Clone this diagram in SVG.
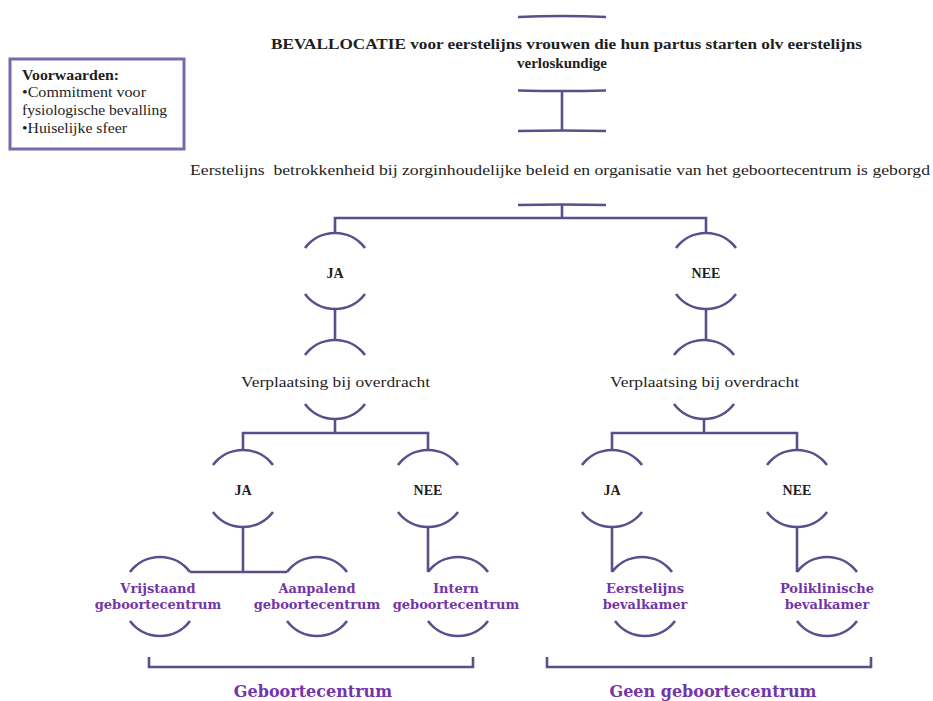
<svg xmlns="http://www.w3.org/2000/svg" width="933" height="701" viewBox="0 0 933 701">
<style>
  .ln{fill:none;stroke:#5b4e8c;stroke-width:2.6;stroke-linecap:butt}
  .box{fill:#fff;stroke:#7a68ad;stroke-width:3}
  .t{font-family:"Liberation Serif","DejaVu Serif",serif;fill:#1e1e1e}
  .b{font-weight:bold}
  .c{text-anchor:middle}
  .leaf{font-family:"DejaVu Serif","Liberation Serif",serif;font-weight:bold;fill:#7435a8;font-size:13px;text-anchor:middle}
  .grp{font-family:"DejaVu Serif","Liberation Serif",serif;font-weight:bold;fill:#7435a8;font-size:16px;text-anchor:middle}
</style>
<rect width="933" height="701" fill="#ffffff"/>

<g id="voorwaarden">
  <rect class="box" x="10" y="59" width="174" height="90"/>
  <text class="t b" x="22" y="80" font-size="14" textLength="97" lengthAdjust="spacingAndGlyphs">Voorwaarden:</text>
  <text class="t" x="22" y="97" font-size="14" textLength="124" lengthAdjust="spacingAndGlyphs">•Commitment voor</text>
  <text class="t" x="22" y="115" font-size="14" textLength="145" lengthAdjust="spacingAndGlyphs">fysiologische bevalling</text>
  <text class="t" x="22" y="133" font-size="14" textLength="105" lengthAdjust="spacingAndGlyphs">•Huiselijke sfeer</text>
</g>

<g id="node-title">
  <path class="ln" d="M518,17 Q562,15 606,17"/>
  <text class="t b" x="271" y="49" font-size="15" textLength="591" lengthAdjust="spacingAndGlyphs">BEVALLOCATIE voor eerstelijns vrouwen die hun partus starten olv eerstelijns</text>
  <text class="t b c" x="562" y="68" font-size="15">verloskundige</text>
  <path class="ln" d="M518,90.5 Q562,91.5 606,90.5"/>
</g>

<g id="node-betrokkenheid">
  <path class="ln" d="M518,131 Q562,130 606,131"/>
  <text class="t" x="190" y="175" font-size="15" xml:space="preserve" textLength="740" lengthAdjust="spacingAndGlyphs">Eerstelijns  betrokkenheid bij zorginhoudelijke beleid en organisatie van het geboortecentrum is geborgd</text>
  <path class="ln" d="M518,205 Q562,204 606,205"/>
</g>

<g id="node-ja1">
  <path class="ln" d="M305,248 A37.5,37.5 0 0 1 365,248"/>
  <text class="t b c" x="335" y="278" font-size="14">JA</text>
  <path class="ln" d="M305,294 A37.5,37.5 0 0 0 365,294"/>
</g>
<g id="node-nee1">
  <path class="ln" d="M676,248 A37.5,37.5 0 0 1 736,248"/>
  <text class="t b c" x="706" y="278" font-size="14">NEE</text>
  <path class="ln" d="M676,294 A37.5,37.5 0 0 0 736,294"/>
</g>

<g id="node-verplaatsing1">
  <path class="ln" d="M305,355 A37.5,37.5 0 0 1 365,355"/>
  <text class="t" x="241" y="387" font-size="15" textLength="189" lengthAdjust="spacingAndGlyphs">Verplaatsing bij overdracht</text>
  <path class="ln" d="M305,404 A37.5,37.5 0 0 0 365,404"/>
</g>
<g id="node-verplaatsing2">
  <path class="ln" d="M674,355 A37.5,37.5 0 0 1 734,355"/>
  <text class="t" x="610" y="387" font-size="15" textLength="189" lengthAdjust="spacingAndGlyphs">Verplaatsing bij overdracht</text>
  <path class="ln" d="M674,404 A37.5,37.5 0 0 0 734,404"/>
</g>

<g id="node-ja2a">
  <path class="ln" d="M213,465 A37.5,37.5 0 0 1 273,465"/>
  <text class="t b c" x="243" y="495" font-size="14">JA</text>
  <path class="ln" d="M213,512 A37.5,37.5 0 0 0 273,512"/>
</g>
<g id="node-nee2a">
  <path class="ln" d="M398,465 A37.5,37.5 0 0 1 458,465"/>
  <text class="t b c" x="428" y="495" font-size="14">NEE</text>
  <path class="ln" d="M398,512 A37.5,37.5 0 0 0 458,512"/>
</g>
<g id="node-ja2b">
  <path class="ln" d="M582,465 A37.5,37.5 0 0 1 642,465"/>
  <text class="t b c" x="612" y="495" font-size="14">JA</text>
  <path class="ln" d="M582,512 A37.5,37.5 0 0 0 642,512"/>
</g>
<g id="node-nee2b">
  <path class="ln" d="M767,465 A37.5,37.5 0 0 1 827,465"/>
  <text class="t b c" x="797" y="495" font-size="14">NEE</text>
  <path class="ln" d="M767,512 A37.5,37.5 0 0 0 827,512"/>
</g>

<g id="node-vrijstaand">
  <path class="ln" d="M130,572 A37.5,37.5 0 0 1 190,572"/>
  <text class="leaf" x="158" y="593">Vrijstaand</text>
  <text class="leaf" x="158" y="609">geboortecentrum</text>
  <path class="ln" d="M130,621 A37.5,37.5 0 0 0 190,621"/>
</g>
<g id="node-aanpalend">
  <path class="ln" d="M287,572 A37.5,37.5 0 0 1 347,572"/>
  <text class="leaf" x="317" y="593">Aanpalend</text>
  <text class="leaf" x="317" y="609">geboortecentrum</text>
  <path class="ln" d="M287,621 A37.5,37.5 0 0 0 347,621"/>
</g>
<g id="node-intern">
  <path class="ln" d="M428,572 A37.5,37.5 0 0 1 488,572"/>
  <text class="leaf" x="456" y="593">Intern</text>
  <text class="leaf" x="456" y="609">geboortecentrum</text>
  <path class="ln" d="M428,621 A37.5,37.5 0 0 0 488,621"/>
</g>
<g id="node-eerstelijns-bevalkamer">
  <path class="ln" d="M612,572 A37.5,37.5 0 0 1 672,572"/>
  <text class="leaf" x="645" y="593">Eerstelijns</text>
  <text class="leaf" x="645" y="609">bevalkamer</text>
  <path class="ln" d="M615,621 A37.5,37.5 0 0 0 675,621"/>
</g>
<g id="node-poliklinische-bevalkamer">
  <path class="ln" d="M797,572 A37.5,37.5 0 0 1 857,572"/>
  <text class="leaf" x="827" y="593">Poliklinische</text>
  <text class="leaf" x="827" y="609">bevalkamer</text>
  <path class="ln" d="M797,621 A37.5,37.5 0 0 0 857,621"/>
</g>

<g id="group-geboortecentrum">
  <path class="ln" d="M149,657 V667 H473 V657"/>
  <text class="grp" x="313" y="697">Geboortecentrum</text>
</g>
<g id="group-geen-geboortecentrum">
  <path class="ln" d="M547,657 V667 H871 V657"/>
  <text class="grp" x="713" y="697">Geen geboortecentrum</text>
</g>

<g id="connectors">
  <path class="ln" d="M562,91 V131"/>
  <path class="ln" d="M562,205 V218"/>
  <path class="ln" d="M335,233 V218 H706 V233"/>
  <path class="ln" d="M335,308 V340"/>
  <path class="ln" d="M706,308 V340"/>
  <path class="ln" d="M335,418 V433"/>
  <path class="ln" d="M243,450 V433 H428 V450"/>
  <path class="ln" d="M704,418 V433"/>
  <path class="ln" d="M612,450 V433 H797 V450"/>
  <path class="ln" d="M243,526 V572"/>
  <path class="ln" d="M190,572 H287"/>
  <path class="ln" d="M428,526 V572"/>
  <path class="ln" d="M612,526 V572"/>
  <path class="ln" d="M797,526 V572"/>
</g>
</svg>
